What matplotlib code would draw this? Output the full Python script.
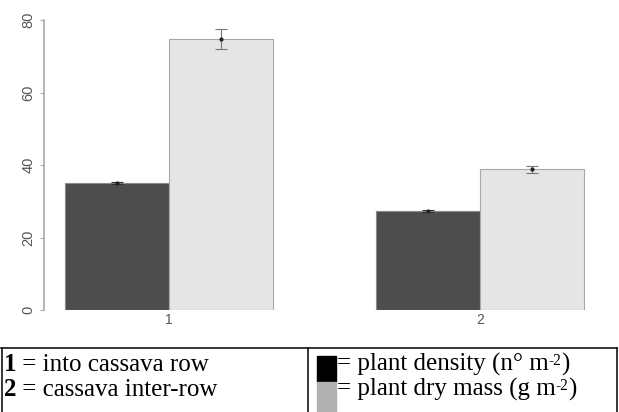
import numpy as np
import matplotlib.pyplot as plt
from matplotlib.patches import Rectangle
from matplotlib.lines import Line2D

# datos
grupos = ["1", "2"]
densidad = [35.0, 27.4]
densidad_err = [0.3, 0.3]
masa = [74.8, 38.8]
masa_err = [2.8, 0.9]
yticks = [0, 20, 40, 60, 80]

W, H = 619, 412
fig = plt.figure(figsize=(W / 100, H / 100), dpi=100)

# ejes en pixeles
x0, x1, ytop, ybot = 44, 600, 20, 310
ax = fig.add_axes([x0 / W, (H - ybot) / H, (x1 - x0) / W, (ybot - ytop) / H])

c1, c2, paso = 169, 480, 311.0
ancho = 104 / paso
ax.set_xlim(1 - (c1 - x0) / paso, 2 + (x1 - c2) / paso)
ax.set_ylim(0, 80)

pos = np.arange(1, len(grupos) + 1)
ax.bar(pos - ancho / 2, densidad, width=ancho, color="#4d4d4d", edgecolor="#8a8a8a", linewidth=0.8)
ax.bar(pos + ancho / 2, masa, width=ancho, color="#e5e5e5", edgecolor="#a8a8a8", linewidth=0.8)
ax.errorbar(pos - ancho / 2, densidad, yerr=densidad_err, fmt="o", ms=2, color="#222222",
            ecolor="#333333", elinewidth=0.8, capsize=4, capthick=0.8)
ax.errorbar(pos + ancho / 2, masa, yerr=masa_err, fmt="o", ms=2, color="#222222",
            ecolor="#777777", elinewidth=0.8, capsize=4, capthick=0.8)

for s in ["top", "right", "bottom"]:
    ax.spines[s].set_visible(False)
ax.spines["left"].set_color("#aaaaaa")
ax.spines["left"].set_linewidth(1.2)
ax.spines["left"].set_bounds(0, 80)

ax.set_yticks(yticks)
ax.set_yticklabels([str(t) for t in yticks], rotation=90, va="center", fontsize=10.5,
                   color="#555555", family="Liberation Sans")
ax.tick_params(axis="y", length=3, color="#aaaaaa", pad=3)
ax.set_xticks(pos)
ax.set_xticklabels(grupos, fontsize=10, color="#555555", family="Liberation Sans")
ax.tick_params(axis="x", length=0, pad=2)

# tabla de leyenda
def px(x, y):
    return x / W, 1 - y / H

def linea(xa, ya, xb, yb):
    (fx0, fy0), (fx1, fy1) = px(xa, ya), px(xb, yb)
    fig.add_artist(Line2D([fx0, fx1], [fy0, fy1], color="black", lw=1.1,
                          transform=fig.transFigure))

linea(1, 348, 617, 348)
linea(1.5, 348, 1.5, 412)
linea(308, 348, 308, 412)
linea(616.5, 348, 616.5, 412)

renderer = fig.canvas.get_renderer()

def texto(partes, x, y, size=18):
    # partes: lista de (cadena, negrita, superindice)
    for cad, negrita, sup in partes:
        t = fig.text(x / W, 1 - (y - (6 if sup else 0)) / H, cad, family="Liberation Serif",
                     fontsize=size * (0.62 if sup else 1), fontweight="bold" if negrita else "normal",
                     va="baseline", ha="left")
        x += t.get_window_extent(renderer).width

texto([("1", True, False), (" = into cassava row", False, False)], 4, 371)
texto([("2", True, False), (" = cassava inter-row", False, False)], 4, 396)

for (ya, yb, col) in [(356, 382, "black"), (382, 412, "#b0b0b0")]:
    fx, fy = px(317, yb)
    fig.add_artist(Rectangle((fx, fy), 19 / W, (yb - ya) / H, color=col,
                             transform=fig.transFigure))

texto([("= plant density (n\u00b0 m", False, False), ("-2", False, True), (")", False, False)], 337, 371)
texto([("= plant dry mass (g m", False, False), ("-2", False, True), (")", False, False)], 337, 396)

fig.savefig("out.png", dpi=100)
